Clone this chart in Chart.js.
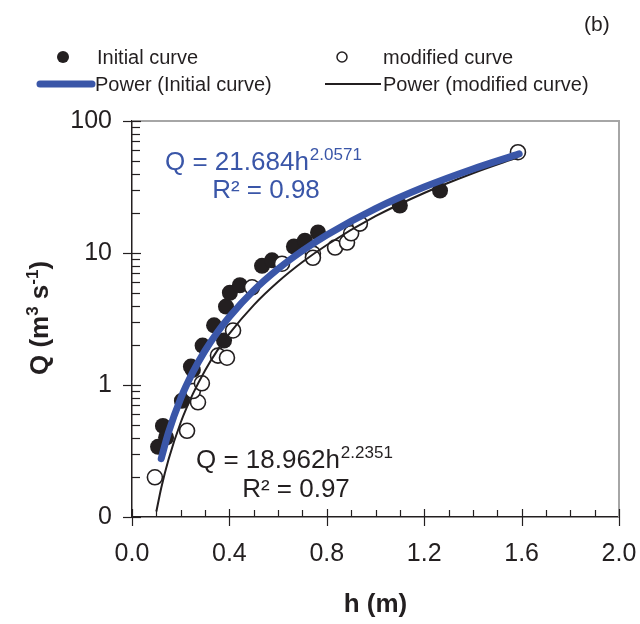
<!DOCTYPE html>
<html>
<head>
<meta charset="utf-8">
<script src="https://cdn.jsdelivr.net/npm/chart.js@4/dist/chart.umd.min.js"></script>
<style>
  html, body { margin: 0; padding: 0; background: #fff; }
  #wrap { width: 640px; height: 624px; }
</style>
</head>
<body>
<div id="wrap"><canvas id="ratingChart" width="640" height="624"></canvas></div>
<script>
  var initialH = [0.107, 0.127, 0.14, 0.205, 0.242, 0.25, 0.29, 0.337, 0.378, 0.386, 0.402, 0.443, 0.534, 0.575, 0.665, 0.71, 0.764, 1.10, 1.265];
  var initialQ = [0.34, 0.49, 0.40, 0.76, 1.38, 1.30, 1.99, 2.83, 2.17, 3.93, 5.0, 5.7, 8.0, 8.8, 11.2, 12.4, 14.3, 22.9, 29.7];

  var modifiedH = [0.094, 0.226, 0.271, 0.25, 0.287, 0.353, 0.39, 0.415, 0.493, 0.616, 0.743, 0.743, 0.834, 0.883, 0.90, 0.936, 1.585];
  var modifiedQ = [0.20, 0.45, 0.74, 0.90, 1.03, 1.67, 1.61, 2.59, 5.5, 8.3, 9.9, 9.2, 11.0, 12.0, 14.1, 16.7, 58];

  // power trendlines, values
  var initialFitH = [0.12, 0.15, 0.2, 0.25, 0.3, 0.35, 0.4, 0.5, 0.6, 0.7, 0.8, 1.0, 1.2, 1.4, 1.59];
  var initialFitQ = [0.277, 0.438, 0.791, 1.25, 1.82, 2.50, 3.29, 5.21, 7.58, 10.4, 13.7, 21.7, 31.6, 43.3, 56.3];

  var modifiedFitH = [0.1, 0.12, 0.15, 0.2, 0.25, 0.3, 0.35, 0.4, 0.5, 0.6, 0.7, 0.8, 1.0, 1.2, 1.4, 1.585];
  var modifiedFitQ = [0.110, 0.166, 0.273, 0.520, 0.856, 1.29, 1.82, 2.45, 4.03, 6.05, 8.54, 11.5, 19.0, 28.5, 40.2, 53.1];

  var xTickLabels = ['0.0', '0.4', '0.8', '1.2', '1.6', '2.0'];
  var yTickLabels = {0.1: '0', 1: '1', 10: '10', 100: '100'};

  var seriesNames = ['Initial curve', 'modified curve', 'Power (Initial curve)', 'Power (modified curve)'];
  var initialEq = ['Q = 21.684h', '2.0571', 'R\u00b2 = 0.98'];
  var modifiedEq = ['Q = 18.962h', '2.2351', 'R\u00b2 = 0.97'];

  var FONT = '"Liberation Sans", Arial, sans-serif';
  var INK = '#231f20';
  var BLUE = '#3a56a8';

  function pairs(xs, ys) {
      var out = [];
      for (var i = 0; i < xs.length; i++) out.push({x: xs[i], y: ys[i]});
      return out;
  }

  // tick marks, frame, legend and equations
  var decorPlugin = {
      id: 'decor',
      afterDatasetsDraw: function(chart) {
          var ctx = chart.ctx;
          var xs = chart.scales.x, ys = chart.scales.y;
          var a = chart.chartArea;
          ctx.save();

          // grey frame top/right
          ctx.strokeStyle = '#a6a6a6';
          ctx.lineWidth = 2;
          ctx.beginPath();
          ctx.moveTo(a.left, a.top);
          ctx.lineTo(a.right, a.top);
          ctx.lineTo(a.right, a.bottom);
          ctx.stroke();

          // x ticks
          ctx.strokeStyle = INK;
          ctx.lineWidth = 1.2;
          for (var i = 0; i <= 20; i++) {
              var px = Math.round(xs.getPixelForValue(i / 10)) + 0.5;
              ctx.beginPath();
              if (i % 4 === 0) {
                  ctx.moveTo(px, a.bottom - 8);
                  ctx.lineTo(px, a.bottom + 9);
              } else {
                  ctx.moveTo(px, a.bottom - 7);
                  ctx.lineTo(px, a.bottom);
              }
              ctx.stroke();
          }
          // y ticks
          for (var d = -1; d <= 1; d++) {
              for (var m = 1; m <= 9; m++) {
                  var v = m * Math.pow(10, d);
                  var py = Math.round(ys.getPixelForValue(v)) + 0.5;
                  ctx.beginPath();
                  if (m === 1) {
                      ctx.moveTo(a.left - 9, py);
                      ctx.lineTo(a.left + 9, py);
                  } else {
                      ctx.moveTo(a.left, py);
                      ctx.lineTo(a.left + 8, py);
                  }
                  ctx.stroke();
              }
          }
          var py2 = Math.round(ys.getPixelForValue(100)) + 0.5;
          ctx.beginPath();
          ctx.moveTo(a.left - 9, py2);
          ctx.lineTo(a.left + 9, py2);
          ctx.stroke();

          // equations
          ctx.textBaseline = 'alphabetic';
          ctx.textAlign = 'left';
          ctx.fillStyle = BLUE;
          ctx.font = '26px ' + FONT;
          ctx.fillText(initialEq[0], 165, 170);
          var w1 = ctx.measureText(initialEq[0]).width;
          ctx.font = '17px ' + FONT;
          ctx.fillText(initialEq[1], 165 + w1 + 1, 160);
          ctx.font = '26px ' + FONT;
          ctx.textAlign = 'center';
          ctx.fillText(initialEq[2], 266, 198);

          ctx.fillStyle = INK;
          ctx.textAlign = 'left';
          ctx.fillText(modifiedEq[0], 196, 468);
          var w2 = ctx.measureText(modifiedEq[0]).width;
          ctx.font = '17px ' + FONT;
          ctx.fillText(modifiedEq[1], 196 + w2 + 1, 458);
          ctx.font = '26px ' + FONT;
          ctx.textAlign = 'center';
          ctx.fillText(modifiedEq[2], 296, 497);

          // legend
          ctx.textAlign = 'left';
          ctx.font = '20px ' + FONT;
          ctx.fillStyle = INK;
          ctx.beginPath();
          ctx.arc(63, 57, 6, 0, Math.PI * 2);
          ctx.fill();
          ctx.fillText(seriesNames[0], 97, 64);
          ctx.lineWidth = 1.5;
          ctx.beginPath();
          ctx.arc(342, 57, 5, 0, Math.PI * 2);
          ctx.stroke();
          ctx.fillText(seriesNames[1], 383, 64);

          ctx.strokeStyle = BLUE;
          ctx.lineWidth = 7;
          ctx.lineCap = 'round';
          ctx.beginPath();
          ctx.moveTo(40, 84);
          ctx.lineTo(92, 84);
          ctx.stroke();
          ctx.fillText(seriesNames[2], 95, 91);
          ctx.strokeStyle = INK;
          ctx.lineWidth = 2;
          ctx.lineCap = 'butt';
          ctx.beginPath();
          ctx.moveTo(325, 84);
          ctx.lineTo(381, 84);
          ctx.stroke();
          ctx.fillText(seriesNames[3], 383, 91);

          // panel tag
          ctx.font = '21px ' + FONT;
          ctx.fillText('(b)', 584, 31);

          // y axis title with superscripts
          ctx.translate(48, 318);
          ctx.rotate(-Math.PI / 2);
          var parts = [['Q (m', 26, 0], ['3', 17, -10], [' s', 26, 0], ['-1', 17, -10], [')', 26, 0]];
          var total = 0;
          parts.forEach(function(p) {
              ctx.font = 'bold ' + p[1] + 'px ' + FONT;
              total += ctx.measureText(p[0]).width;
          });
          var cx = -total / 2;
          parts.forEach(function(p) {
              ctx.font = 'bold ' + p[1] + 'px ' + FONT;
              ctx.fillText(p[0], cx, p[2]);
              cx += ctx.measureText(p[0]).width;
          });
          ctx.restore();
      }
  };

  var ctx = document.getElementById('ratingChart').getContext('2d');
  var ratingChart = new Chart(ctx, {
      type: 'scatter',
      data: {
          datasets: [
              {
                  label: seriesNames[2],
                  data: pairs(initialFitH, initialFitQ),
                  showLine: true,
                  borderColor: BLUE,
                  borderWidth: 7,
                  borderCapStyle: 'round',
                  pointRadius: 0,
                  cubicInterpolationMode: 'monotone',
                  order: 0
              },
              {
                  label: seriesNames[3],
                  data: pairs(modifiedFitH, modifiedFitQ),
                  showLine: true,
                  borderColor: INK,
                  borderWidth: 2,
                  pointRadius: 0,
                  cubicInterpolationMode: 'monotone',
                  order: 1
              },
              {
                  label: seriesNames[1],
                  data: pairs(modifiedH, modifiedQ),
                  pointRadius: 7.5,
                  pointBackgroundColor: '#ffffff',
                  pointBorderColor: INK,
                  pointBorderWidth: 1.6,
                  order: 2
              },
              {
                  label: seriesNames[0],
                  data: pairs(initialH, initialQ),
                  pointRadius: 8,
                  pointBackgroundColor: INK,
                  pointBorderColor: INK,
                  pointBorderWidth: 0,
                  order: 3
              }
          ]
      },
      options: {
          responsive: false,
          animation: false,
          events: [],
          layout: { padding: { left: 0, top: 121, right: 21, bottom: 0 } },
          plugins: { legend: { display: false }, tooltip: { enabled: false } },
          scales: {
              x: {
                  type: 'linear',
                  min: 0, max: 2.0,
                  afterBuildTicks: function(scale) {
                      scale.ticks = xTickLabels.map(function(t) { return {value: parseFloat(t)}; });
                  },
                  afterFit: function(scale) {
                      scale.height = 107;
                      scale.paddingLeft = 0;
                      scale.paddingRight = 0;
                  },
                  grid: { display: false },
                  border: { display: true, color: INK, width: 1.5 },
                  ticks: {
                      padding: 14,
                      color: INK,
                      font: { family: FONT, size: 25 },
                      maxRotation: 0,
                      callback: function(v) { return v.toFixed(1); }
                  },
                  title: {
                      display: true,
                      text: 'h (m)',
                      color: INK,
                      font: { family: FONT, size: 26, weight: 'bold' },
                      padding: { top: 8 }
                  }
              },
              y: {
                  type: 'logarithmic',
                  min: 0.1, max: 100,
                  afterBuildTicks: function(scale) {
                      scale.ticks = [0.1, 1, 10, 100].map(function(v) { return {value: v}; });
                  },
                  afterFit: function(scale) {
                      scale.width = 132;
                      scale.paddingTop = 0;
                      scale.paddingBottom = 0;
                  },
                  grid: { display: false },
                  border: { display: true, color: INK, width: 1.5 },
                  ticks: {
                      padding: 12,
                      color: INK,
                      font: { family: FONT, size: 25 },
                      callback: function(v) { return yTickLabels[v] !== undefined ? yTickLabels[v] : ''; }
                  }
              }
          }
      },
      plugins: [decorPlugin]
  });
</script>
</body>
</html>
